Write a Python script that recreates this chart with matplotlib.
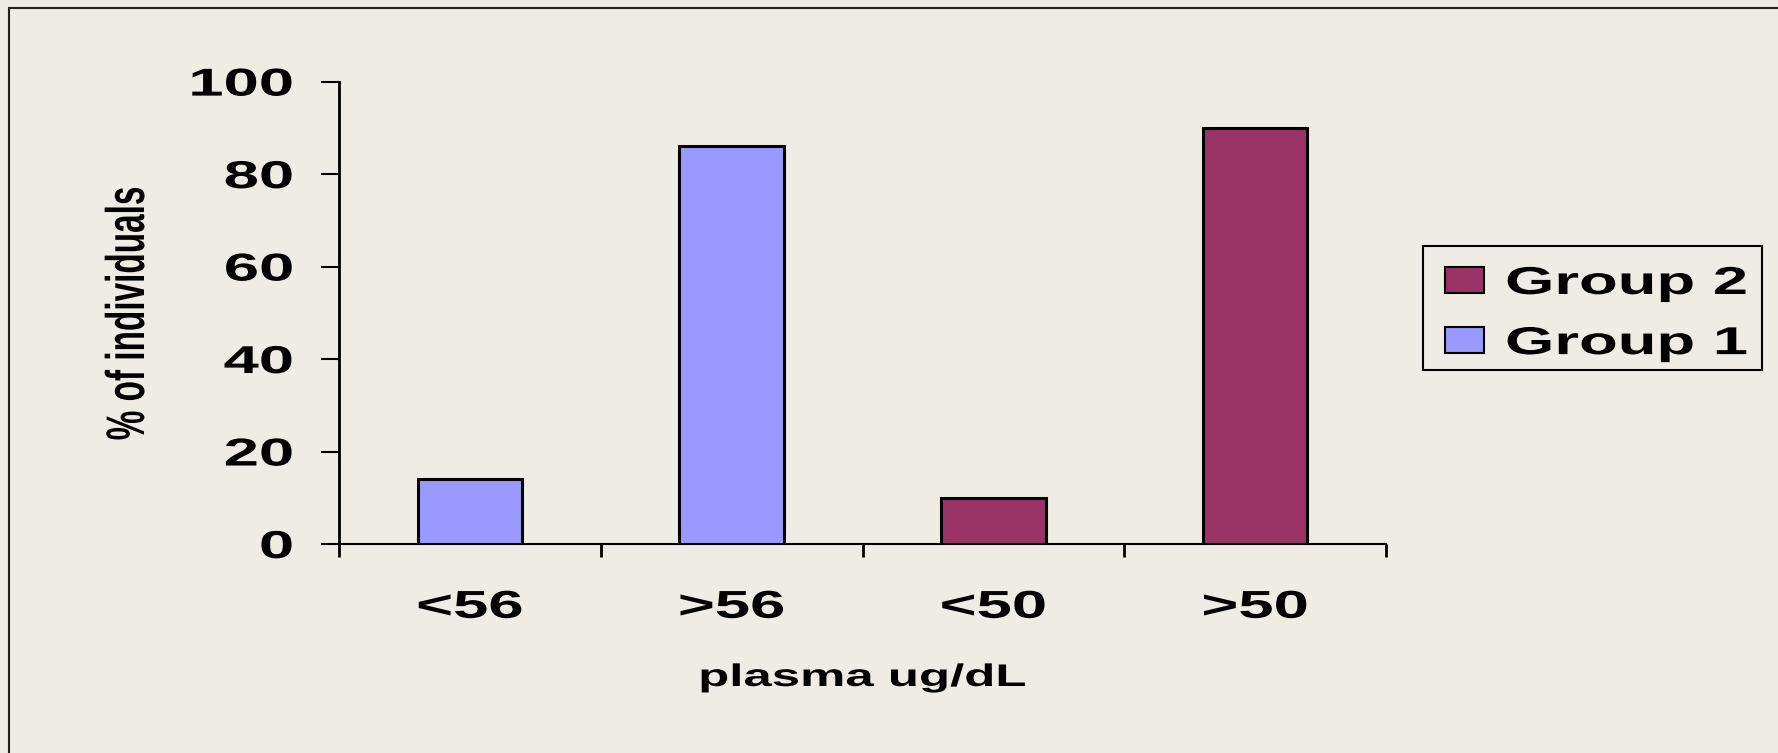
import matplotlib
matplotlib.use("Agg")
import matplotlib.pyplot as plt
from matplotlib.patheffects import AbstractPathEffect
from matplotlib.transforms import Affine2D
from matplotlib.patches import Rectangle

categories = ["<56", ">56", "<50", ">50"]
group1_pos = [0, 1]
group1_values = [14, 86]
group2_pos = [2, 3]
group2_values = [10, 90]
yticks = [0, 20, 40, 60, 80, 100]

BG = "#EEECE4"
G1 = "#9999FF"
G2 = "#993366"
W = 1778
H = 753

plt.rcParams["font.family"] = ["Liberation Sans", "DejaVu Sans"]
plt.rcParams["font.weight"] = "bold"


class Stretch(AbstractPathEffect):
    """Widen glyphs horizontally around a fixed edge of the text."""

    def __init__(self, sx=1.63, anchor="center"):
        super().__init__()
        self.sx = sx
        self.anchor = anchor

    def draw_path(self, renderer, gc, tpath, affine, rgbFace=None):
        box = tpath.get_extents(affine)
        if self.anchor == "left":
            x0 = box.x0
        elif self.anchor == "right":
            x0 = box.x1
        else:
            x0 = (box.x0 + box.x1) / 2
        t = affine + Affine2D().translate(-x0, 0).scale(self.sx, 1).translate(x0, 0)
        renderer.draw_path(gc, tpath, t, rgbFace)


fig = plt.figure(figsize=(W / 100, H / 100), dpi=100, facecolor=BG)
ax = fig.add_axes([339 / W, 209 / H, 1047 / W, 462.4 / H])
ax.set_facecolor("none")

b1 = ax.bar(group1_pos, group1_values, width=0.4, color=G1,
            edgecolor="black", linewidth=2.2, label="Group 1", zorder=3)
b2 = ax.bar(group2_pos, group2_values, width=0.4, color=G2,
            edgecolor="black", linewidth=2.2, label="Group 2", zorder=3)

ax.set_xlim(-0.5, 3.5)
ax.set_ylim(0, 100)
for s in ["top", "right"]:
    ax.spines[s].set_visible(False)
ax.spines["left"].set_linewidth(2.0)
ax.spines["bottom"].set_linewidth(1.5)

ax.set_yticks(yticks)
ax.tick_params(axis="y", direction="out", length=13, width=1.5, pad=20,
               labelsize=28)
ax.set_xticks(range(len(categories)))
ax.set_xticklabels(categories)
ax.set_xticks([-0.5, 0.5, 1.5, 2.5, 3.5], minor=True)
ax.tick_params(axis="x", which="major", length=0, pad=33, labelsize=28)
ax.tick_params(axis="x", which="minor", direction="out", length=9.5, width=2.0)

for lbl in ax.get_yticklabels():
    lbl.set_path_effects([Stretch(anchor="right")])
for lbl in ax.get_xticklabels():
    lbl.set_path_effects([Stretch()])

ax.set_xlabel("plasma ug/dL", fontsize=22.5, fontweight="bold", va="center",
              path_effects=[Stretch()])
ax.xaxis.set_label_coords(0.5, (75 - 209) / 462.4)
ax.set_ylabel("% of individuals", fontsize=24, fontweight="bold", va="center",
              path_effects=[Stretch()])
ax.yaxis.set_label_coords((128 - 339) / 1047, 0.5)

# legend, reversed order; frame drawn separately because the text is widened
leg = fig.legend([b2, b1], ["Group 2", "Group 1"], loc="upper left",
                 bbox_to_anchor=(1445 / W, 1 - 266 / H), frameon=False,
                 fontsize=28, borderpad=0, borderaxespad=0,
                 handlelength=1.0, handleheight=0.65, handletextpad=0.57,
                 labelspacing=0.62)
for h in leg.legend_handles:
    h.set_linewidth(1.5)
for t in leg.get_texts():
    t.set_path_effects([Stretch(anchor="left")])

fig.add_artist(Rectangle((1423 / W, 383 / H), 339 / W, 124 / H, fill=False,
                         edgecolor="black", linewidth=1.5,
                         transform=fig.transFigure))
# outer border, running off the right and bottom edges
fig.add_artist(Rectangle((9 / W, -0.1), 1.2, 1.1 - 8 / H, fill=False,
                         edgecolor="#222222", linewidth=1.5,
                         transform=fig.transFigure))

fig.savefig("out.png", dpi=100, facecolor=BG)
